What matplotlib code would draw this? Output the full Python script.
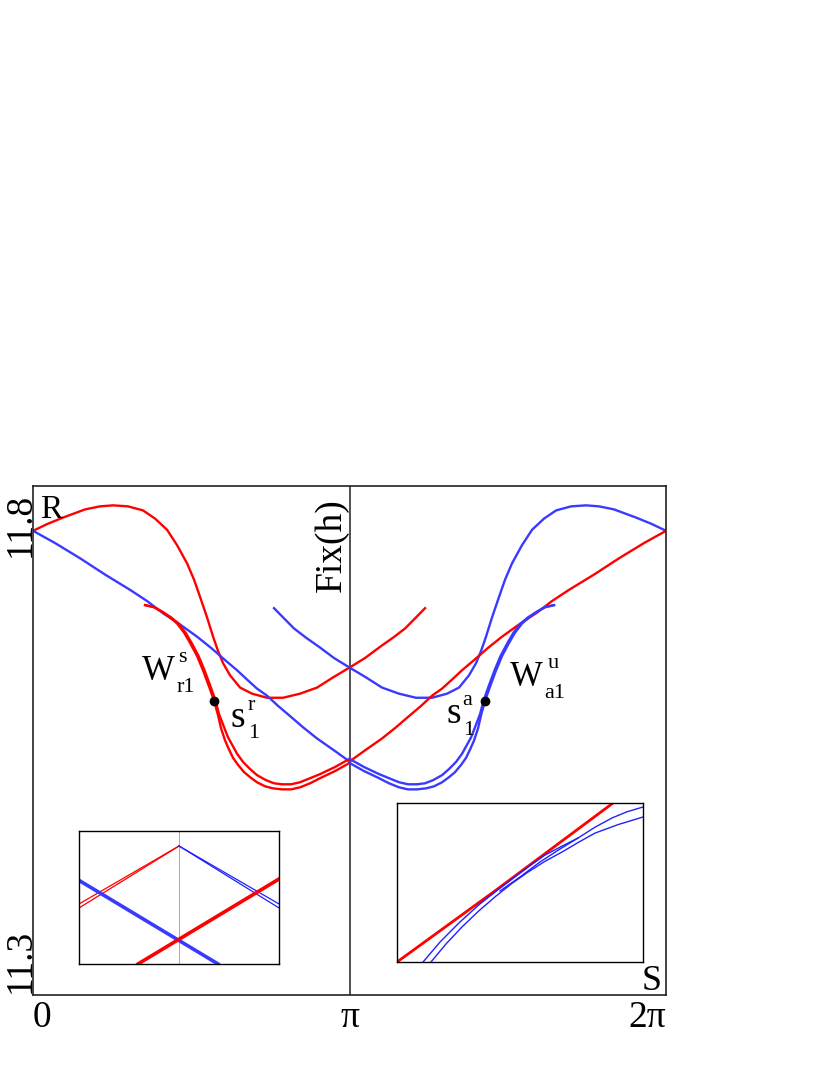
import numpy as np
import matplotlib.pyplot as plt

plt.rcParams['font.family'] = ['Liberation Serif', 'DejaVu Serif']

RED = '#ff0000'
BLUE = '#3a3aff'
BLUE_THIN = '#2020ff'

# main panel: angle (rad) vs R
red_a_x = [0.0, 0.149, 0.298, 0.516, 0.665, 0.794, 0.943, 1.092, 1.211, 1.330, 1.429, 1.529, 1.598, 1.658,
           1.727, 1.787, 1.836, 1.886, 1.956, 2.055, 2.174, 2.323, 2.482, 2.650, 2.819, 2.978, 3.147, 3.295,
           3.444, 3.573, 3.692, 3.792, 3.891]
red_a_y = [11.756, 11.763, 11.769, 11.777, 11.780, 11.781, 11.780, 11.776, 11.768, 11.757, 11.742, 11.724,
           11.708, 11.691, 11.671, 11.652, 11.638, 11.626, 11.614, 11.602, 11.596, 11.592, 11.592, 11.596,
           11.602, 11.612, 11.622, 11.631, 11.642, 11.651, 11.660, 11.670, 11.680]

blue_b_x = [6.283, 6.134, 5.985, 5.767, 5.618, 5.489, 5.340, 5.191, 5.072, 4.953, 4.854, 4.754, 4.685, 4.625,
            4.556, 4.496, 4.447, 4.397, 4.327, 4.228, 4.109, 3.960, 3.801, 3.633, 3.464, 3.305, 3.136, 2.988,
            2.839, 2.710, 2.591, 2.491, 2.392]
blue_b_y = [11.756, 11.763, 11.769, 11.777, 11.780, 11.781, 11.780, 11.776, 11.768, 11.757, 11.742, 11.724,
            11.708, 11.691, 11.671, 11.652, 11.638, 11.626, 11.614, 11.602, 11.596, 11.592, 11.592, 11.596,
            11.602, 11.612, 11.622, 11.631, 11.642, 11.651, 11.660, 11.670, 11.680]

blue_c_x = [0.0, 0.218, 0.467, 0.715, 0.963, 1.132, 1.290, 1.459, 1.628, 1.767, 1.906, 2.025, 2.134, 2.223,
            2.323, 2.432, 2.551, 2.680, 2.819, 2.978, 3.147]
blue_c_y = [11.756, 11.744, 11.729, 11.713, 11.698, 11.687, 11.675, 11.664, 11.652, 11.641, 11.629, 11.619,
            11.609, 11.601, 11.594, 11.584, 11.574, 11.563, 11.552, 11.541, 11.529]

red_d_x = [6.283, 6.065, 5.816, 5.568, 5.320, 5.151, 4.993, 4.824, 4.655, 4.516, 4.377, 4.258, 4.149, 4.060,
           3.960, 3.851, 3.732, 3.603, 3.464, 3.305, 3.136]
red_d_y = [11.756, 11.744, 11.729, 11.713, 11.698, 11.687, 11.675, 11.664, 11.652, 11.641, 11.629, 11.619,
           11.609, 11.601, 11.594, 11.584, 11.574, 11.563, 11.552, 11.541, 11.529]

# W_r1^s (two close branches)
wr_out_x = [1.112, 1.201, 1.290, 1.360, 1.429, 1.499, 1.558, 1.628, 1.687, 1.747, 1.797, 1.836, 1.866, 1.906,
            1.946, 1.985, 2.035, 2.094, 2.154, 2.223, 2.303, 2.382, 2.472, 2.561, 2.650, 2.750, 2.849, 2.998, 3.142]
wr_out_y = [11.683, 11.681, 11.676, 11.671, 11.665, 11.656, 11.646, 11.633, 11.619, 11.603, 11.589, 11.575,
            11.562, 11.550, 11.541, 11.533, 11.526, 11.519, 11.514, 11.509, 11.505, 11.503, 11.502, 11.502,
            11.504, 11.508, 11.513, 11.520, 11.528]
wr_in_x = [1.112, 1.201, 1.290, 1.370, 1.442, 1.514, 1.573, 1.643, 1.702, 1.762, 1.812, 1.846, 1.896, 1.936,
           1.975, 2.025, 2.084, 2.154, 2.223, 2.313, 2.392, 2.472, 2.561, 2.650, 2.750, 2.849, 2.998, 3.142]
wr_in_y = [11.683, 11.681, 11.676, 11.671, 11.665, 11.656, 11.646, 11.633, 11.619, 11.603, 11.589, 11.576,
           11.563, 11.553, 11.546, 11.537, 11.529, 11.522, 11.516, 11.511, 11.508, 11.507, 11.507, 11.509,
           11.513, 11.517, 11.524, 11.532]

# W_a1^u (two close branches)
wa_out_x = [5.171, 5.082, 4.993, 4.923, 4.854, 4.784, 4.725, 4.655, 4.596, 4.536, 4.486, 4.447, 4.417, 4.377,
            4.337, 4.298, 4.248, 4.189, 4.129, 4.060, 3.980, 3.901, 3.811, 3.722, 3.633, 3.533, 3.434, 3.285, 3.141]
wa_out_y = [11.683, 11.681, 11.676, 11.671, 11.665, 11.656, 11.646, 11.633, 11.619, 11.603, 11.589, 11.575,
            11.562, 11.550, 11.541, 11.533, 11.526, 11.519, 11.514, 11.509, 11.505, 11.503, 11.502, 11.502,
            11.504, 11.508, 11.513, 11.520, 11.528]
wa_in_x = [5.171, 5.082, 4.993, 4.913, 4.841, 4.769, 4.710, 4.640, 4.581, 4.521, 4.471, 4.437, 4.387, 4.347,
           4.308, 4.258, 4.199, 4.129, 4.060, 3.970, 3.891, 3.811, 3.722, 3.633, 3.533, 3.434, 3.285, 3.141]
wa_in_y = [11.683, 11.681, 11.676, 11.671, 11.665, 11.656, 11.646, 11.633, 11.619, 11.603, 11.589, 11.576,
           11.563, 11.553, 11.546, 11.537, 11.529, 11.522, 11.516, 11.511, 11.508, 11.507, 11.507, 11.509,
           11.513, 11.517, 11.524, 11.532]

dots_x = [1.797, 4.486]
dots_y = [11.589, 11.589]

# left inset (zoom near Fix(h))
li_red1_x, li_red1_y = [-1.0, 0.0], [0.451, 0.887]
li_red2_x, li_red2_y = [-1.0, 0.0], [0.421, 0.887]
li_blue1_x, li_blue1_y = [0.0, 1.0], [0.887, 0.451]
li_blue2_x, li_blue2_y = [0.0, 1.0], [0.887, 0.421]
li_bthick_x, li_bthick_y = [-0.99, 0.39], [0.624, 0.0]
li_rthick_x, li_rthick_y = [-0.41, 1.0], [0.0, 0.639]

# right inset (zoom near end of W_a1^u)
ri_red_x = [0.0, 0.398, 0.878]
ri_red_y = [0.0, 0.447, 1.0]
ri_bup_x = [1.0, 0.935, 0.874, 0.805, 0.736, 0.670, 0.602, 0.550, 0.500, 0.419, 0.337, 0.256, 0.175, 0.106]
ri_bup_y = [0.975, 0.945, 0.906, 0.848, 0.780, 0.728, 0.673, 0.617, 0.560, 0.465, 0.365, 0.252, 0.126, 0.0]
ri_tongue_x = [0.736, 0.663, 0.581, 0.500, 0.419]
ri_tongue_y = [0.780, 0.711, 0.629, 0.535, 0.447]
ri_blow_x = [0.138, 0.200, 0.264, 0.330, 0.398, 0.465, 0.533, 0.600, 0.671, 0.740, 0.805, 0.900, 1.0]
ri_blow_y = [0.0, 0.115, 0.220, 0.318, 0.409, 0.492, 0.566, 0.632, 0.692, 0.755, 0.811, 0.865, 0.912]

fig = plt.figure(figsize=(8.3, 10.75), dpi=100)
ax = fig.add_axes([0.0398, 0.0744, 0.7627, 0.4735])
ax.set_xlim(0, 2 * np.pi)
ax.set_ylim(11.3, 11.8)
ax.set_xticks([])
ax.set_yticks([])
for s in ax.spines.values():
    s.set_linewidth(1.2)
    s.set_color('#222222')

lw = 1.7
ax.axvline(np.pi, color='#333333', lw=1.2)
ax.plot(red_a_x, red_a_y, color=RED, lw=lw)
ax.plot(blue_b_x, blue_b_y, color=BLUE, lw=lw)
ax.plot(blue_c_x, blue_c_y, color=BLUE, lw=lw)
ax.plot(red_d_x, red_d_y, color=RED, lw=lw)
ax.plot(wr_out_x, wr_out_y, color=RED, lw=lw)
ax.plot(wr_in_x, wr_in_y, color=RED, lw=lw)
ax.plot(wa_out_x, wa_out_y, color=BLUE, lw=lw)
ax.plot(wa_in_x, wa_in_y, color=BLUE, lw=lw)
ax.plot(dots_x, dots_y, 'o', color='black', ms=6, zorder=5)

big = 27
lab = 25
small = 16
# tick labels
xt = ax.get_xaxis_transform()
ax.text(0, -0.063, '0', transform=xt, ha='left', va='baseline', fontsize=big)
ax.text(np.pi, -0.063, 'π', transform=xt, ha='center', va='baseline', fontsize=big)
ax.text(2 * np.pi, -0.063, '2π', transform=xt, ha='right', va='baseline', fontsize=big)
ax.text(-0.005, 0.004, '11.3', transform=ax.transAxes, rotation=90, rotation_mode='anchor',
        ha='left', va='baseline', fontsize=big)
ax.text(-0.005, 0.986, '11.8', transform=ax.transAxes, rotation=90, rotation_mode='anchor',
        ha='right', va='baseline', fontsize=big)

ax.text(0.069, 11.769, 'R', ha='left', va='baseline', fontsize=24)
ax.text(6.243, 11.305, 'S', ha='right', va='baseline', fontsize=26)
ax.text(3.05, 11.696, 'Fix(h)', rotation=90, rotation_mode='anchor', ha='left', va='baseline', fontsize=big)

# manifold / point labels
ax.text(1.082, 11.609, 'W', fontsize=lab, va='baseline')
ax.text(1.425, 11.598, 'r1', fontsize=small, va='baseline')
ax.text(1.445, 11.627, 's', fontsize=small, va='baseline')
ax.text(1.955, 11.563, 's', fontsize=big, va='baseline')
ax.text(2.130, 11.580, 'r', fontsize=small, va='baseline')
ax.text(2.130, 11.552, '1', fontsize=small, va='baseline')
ax.text(4.735, 11.604, 'W', fontsize=lab, va='baseline')
ax.text(5.078, 11.592, 'a1', fontsize=small, va='baseline')
ax.text(5.112, 11.621, 'u', fontsize=small, va='baseline')
ax.text(4.099, 11.567, 's', fontsize=big, va='baseline')
ax.text(4.265, 11.585, 'a', fontsize=small, va='baseline')
ax.text(4.265, 11.555, '1', fontsize=small, va='baseline')

# left inset
ia = fig.add_axes([0.0952, 0.1033, 0.241, 0.1237])
ia.set_xlim(-1, 1)
ia.set_ylim(0, 1)
ia.set_xticks([])
ia.set_yticks([])
for s in ia.spines.values():
    s.set_linewidth(1.0)
ia.axvline(0, color='#aaaaaa', lw=0.7)
ia.plot(li_red1_x, li_red1_y, color=RED, lw=0.9)
ia.plot(li_red2_x, li_red2_y, color=RED, lw=0.9)
ia.plot(li_blue1_x, li_blue1_y, color=BLUE_THIN, lw=0.9)
ia.plot(li_blue2_x, li_blue2_y, color=BLUE_THIN, lw=0.9)
ia.plot(li_bthick_x, li_bthick_y, color=BLUE, lw=2.6)
ia.plot(li_rthick_x, li_rthick_y, color=RED, lw=2.6)

# right inset
ib = fig.add_axes([0.4783, 0.1051, 0.2964, 0.1479])
ib.set_xlim(0, 1)
ib.set_ylim(0, 1)
ib.set_xticks([])
ib.set_yticks([])
for s in ib.spines.values():
    s.set_linewidth(1.0)
ib.plot(ri_red_x, ri_red_y, color=RED, lw=2.0)
ib.plot(ri_bup_x, ri_bup_y, color=BLUE_THIN, lw=1.0)
ib.plot(ri_tongue_x, ri_tongue_y, color=BLUE_THIN, lw=1.0)
ib.plot(ri_blow_x, ri_blow_y, color=BLUE_THIN, lw=1.0)

fig.savefig('out.png', dpi=100)
